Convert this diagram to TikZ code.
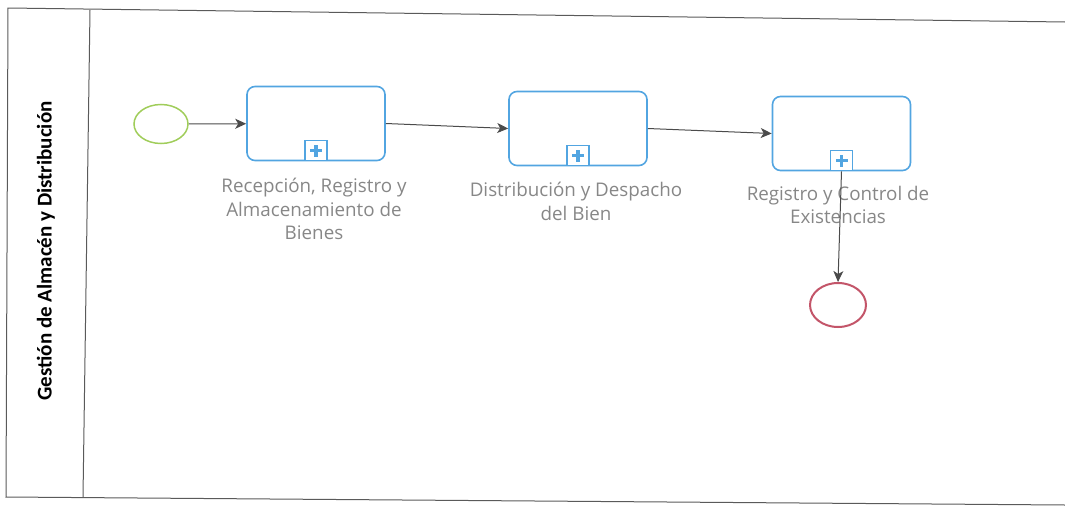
\documentclass[tikz,border=0pt]{standalone}
\usepackage{fontspec}
\setmainfont{Open Sans}
\newfontfamily\lanefont{Carlito}
\usetikzlibrary{arrows.meta,shapes.geometric,calc}
\definecolor{taskblue}{RGB}{82,165,225}
\definecolor{startgreen}{RGB}{160,205,90}
\definecolor{endred}{RGB}{195,85,105}
\definecolor{labelgray}{RGB}{135,135,135}
\definecolor{flowgray}{RGB}{75,75,75}
\definecolor{framegray}{RGB}{90,90,90}
\tikzset{
  task/.style={draw=taskblue,line width=1.6pt,rounded corners=8pt,minimum width=138pt,minimum height=74pt,inner sep=0pt,fill=white},
  marker/.style={draw=taskblue,line width=1.2pt,minimum width=22pt,minimum height=20pt,inner sep=0pt,fill=white},
  startev/.style={ellipse,draw=startgreen,line width=1.5pt,minimum width=54pt,minimum height=39pt,inner sep=0pt},
  endev/.style={ellipse,draw=endred,line width=2pt,minimum width=56pt,minimum height=44pt,inner sep=0pt},
  tasklabel/.style={text=labelgray,font=\fontsize{18.8}{23.5}\selectfont,align=center,inner sep=0pt},
  flow/.style={draw=flowgray,line width=1pt,-{Stealth[length=11pt,width=10pt,inset=3pt]}},
  frameline/.style={draw=framegray,line width=1pt}
}
\newcommand{\plusmark}[1]{%
  \fill[taskblue] ($(#1)+(-6,-1.6)$) rectangle ($(#1)+(6,1.6)$);
  \fill[taskblue] ($(#1)+(-1.6,-6)$) rectangle ($(#1)+(1.6,6)$);}
\begin{document}
\begin{tikzpicture}[x=1pt,y=-1pt]
\useasboundingbox (0,0) rectangle (1065,506);
% pool frame
\coordinate (tl) at (8,8);
\coordinate (tr) at (1065,22);
\coordinate (bl) at (6,497);
\coordinate (br) at (1065,505);
\coordinate (st) at (90,10);
\coordinate (sb) at (83,497);
\draw[frameline] (tr) -- (tl) -- (bl) -- (br);
\draw[frameline] (st) -- (sb);
\node[rotate=90,font=\lanefont\bfseries\fontsize{21}{23}\selectfont] (lane) at (46,251) {Gestión de Almacén y Distribución};
% events and tasks
\node[startev] (start) at (161,124) {};
\node[task] (t1) at (316,123.5) {};
\node[task] (t2) at (578,128.5) {};
\node[task] (t3) at (841.5,133.5) {};
\node[endev] (end) at (838,305) {};
% collapsed subprocess markers
\node[marker,anchor=south] (m1) at (t1.south) {};
\node[marker,anchor=south] (m2) at (t2.south) {};
\node[marker,anchor=south] (m3) at (t3.south) {};
\plusmark{m1}
\plusmark{m2}
\plusmark{m3}
% labels
\node[tasklabel,anchor=north] (l1) at (314,178) {Recepción, Registro y\\Almacenamiento de\\Bienes};
\node[tasklabel,anchor=north] (l2) at (576,182) {Distribución y Despacho\\del Bien};
\node[tasklabel,anchor=north] (l3) at (838,186) {Registro y Control de\\Existencias};
% flows
\draw[flow] (start) -- (t1);
\draw[flow] (t1.east) -- (t2.west);
\draw[flow] (t2.east) -- (t3.west);
\draw[flow] (m3.south) -- (end.north);
\end{tikzpicture}
\end{document}
